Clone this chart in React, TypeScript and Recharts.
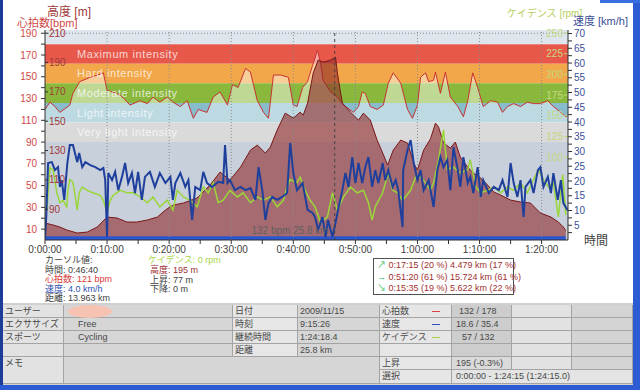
import React from "react";
import {
  ComposedChart,
  Area,
  Line,
  XAxis,
  YAxis,
  ReferenceArea,
  ReferenceLine,
} from "recharts";

const FONT = "'Liberation Sans', 'Noto Sans CJK JP', sans-serif";

// [minutes, value]
const altitude: [number, number][] = [
  [0, 158], [0.8, 163], [1.6, 160], [2.4, 156], [4.0, 161], [4.5, 169], [5.6, 177], [7.3, 180],
  [8.5, 181.5], [9.4, 183], [10.0, 171], [11.6, 169], [12.6, 166], [13.7, 161], [15.3, 164],
  [16.5, 162], [17.4, 166.5], [18.5, 163], [19.7, 166.5], [20.6, 163], [21.8, 160], [22.9, 164],
  [23.9, 152], [24.7, 158], [26.1, 156], [27.1, 166.5], [28.2, 170], [29.4, 161], [30.2, 175],
  [31.1, 173], [32.3, 186], [33.1, 183.5], [34.2, 164], [35.2, 156], [36.0, 152], [36.8, 181.5],
  [37.9, 181.5], [39.2, 180], [40.0, 161], [40.6, 160], [41.5, 173], [42.3, 177], [43.1, 188],
  [43.9, 198.5], [44.4, 189.6], [44.8, 178], [46.0, 170], [47.1, 166.5], [48.1, 161], [49.7, 156],
  [50.5, 160], [51.1, 170], [51.6, 169], [52.4, 160], [53.5, 158], [54.5, 161], [55.3, 176],
  [56.1, 183], [57.3, 176], [58.4, 158], [59.2, 152], [60.0, 161], [60.5, 180], [61.3, 183],
  [61.8, 177], [62.6, 178], [62.9, 183.5], [63.7, 169], [64.5, 183.5], [65.3, 166.5], [66.5, 160],
  [67.4, 153], [68.1, 164], [68.9, 183], [69.7, 173], [70.6, 160], [71.8, 164], [72.9, 163],
  [73.7, 156], [74.5, 160], [75.5, 162], [76.6, 160], [77.7, 163], [78.7, 162], [79.8, 162],
  [81.0, 164], [81.9, 160], [83.1, 156], [83.9, 153], [84.2, 154],
];

const heartRate: [number, number][] = [
  [0, 15.6], [1.3, 13.8], [2.4, 11.9], [3.5, 9.2], [5.2, 6.4], [6.8, 7.3], [8.4, 11.9], [10.0, 21.1],
  [11.6, 20.2], [13.2, 16.5], [14.8, 16.5], [16.5, 18.4], [18.1, 21.1], [19.4, 27.5], [20.6, 32],
  [22.3, 34], [24.5, 38.6], [26.6, 50.5], [28.2, 62.4], [29.8, 55.1], [31.5, 67], [33.1, 82.6],
  [34.2, 87.2], [35.5, 79.9], [36.3, 85.4], [37.4, 101], [38.7, 116.6], [40.0, 112], [41.1, 117.5],
  [41.6, 114.8], [42.3, 125.8], [43.2, 153.4], [44.0, 165.3], [44.8, 163.5], [46.0, 165.3],
  [46.8, 168], [47.1, 153.4], [47.9, 125.8], [49.2, 117.5], [50.5, 110.2], [51.3, 116.6],
  [52.4, 110.2], [53.5, 91.8], [54.4, 79.9], [55.2, 68.9], [56.1, 82.6], [57.3, 91.8], [58.4, 89.1],
  [59.4, 70.7], [60.0, 64.3], [61.0, 82.6], [62.1, 93], [62.9, 107.4], [63.4, 103.8], [64.2, 89.1],
  [65.3, 84.5], [66.1, 90], [66.9, 76.2], [68.1, 67], [69.0, 61.5], [70.2, 56.9], [71.3, 50.5],
  [72.3, 44.1], [73.4, 41.3], [75.0, 36.7], [76.6, 34.9], [78.2, 34], [79.8, 24.8], [81.5, 21.1],
  [82.7, 16.5], [83.5, 11.9], [84.2, 6],
];

const speed: [number, number][] = [
  [0, 0.5], [0.2, 7.8], [0.5, 26.1], [1.1, 26.4], [1.6, 23.7], [2.1, 24.7], [2.4, 18.0], [2.7, 20.3],
  [3.1, 13.6], [3.6, 26.1], [4.0, 32.2], [4.5, 32.2], [5.2, 26.4], [5.5, 29.5], [6.0, 24.7],
  [6.5, 26.4], [7.3, 25.4], [8.1, 24.7], [8.9, 23.7], [9.4, 24.4], [9.7, 20.3], [10.0, 1.0],
  [10.2, 22.7], [10.8, 20.3], [11.3, 23.1], [11.8, 16.9], [12.4, 21.4], [12.9, 26.1], [13.4, 19.3],
  [14.0, 22.7], [14.5, 15.9], [15.0, 23.1], [15.6, 13.6], [16.1, 21.4], [16.9, 23.1], [17.7, 18.0],
  [18.5, 22.7], [19.4, 19.3], [20.2, 21.4], [20.6, 13.6], [21.0, 19.3], [21.8, 22.7], [22.6, 18.0],
  [23.1, 20.3], [23.7, 6.8], [24.2, 18.0], [25.0, 16.9], [25.5, 23.1], [26.1, 19.3], [26.9, 18.0],
  [27.9, 19.7], [28.7, 19.3], [29.0, 32.2], [29.4, 19.3], [29.8, 20.3], [30.6, 16.9], [31.5, 18.0],
  [32.3, 16.9], [33.1, 17.6], [33.9, 13.6], [34.4, 24.7], [35.0, 16.9], [35.5, 6.8], [36.0, 12.5],
  [36.6, 14.6], [37.4, 13.6], [38.2, 14.6], [39.0, 15.9], [39.5, 32.9], [40.0, 22.7], [40.6, 16.9],
  [41.5, 19.3], [42.3, 10.2], [43.1, 9.2], [43.5, 7.8], [44.0, 3.4], [44.7, 7.8], [45.2, 1.0],
  [45.6, 6.8], [46.3, 1.0], [46.8, 5.8], [47.3, 11.2], [47.9, 16.9], [48.4, 22.7], [48.9, 18.0],
  [49.5, 28.1], [50.0, 19.3], [50.5, 26.1], [51.1, 19.3], [51.6, 24.7], [52.1, 28.1], [52.7, 18.0],
  [53.2, 23.7], [53.7, 19.3], [54.4, 26.1], [54.8, 20.3], [55.3, 23.7], [56.0, 18.0], [56.5, 20.3],
  [56.9, 16.9], [57.6, 4.4], [57.7, 23.7], [58.4, 30.5], [58.9, 33.9], [59.4, 26.1], [60.0, 20.3],
  [60.5, 23.7], [61.0, 16.9], [61.8, 20.3], [62.6, 11.2], [63.2, 23.7], [63.7, 28.1], [64.2, 24.7],
  [64.8, 27.1], [65.3, 16.9], [65.8, 31.5], [66.5, 23.7], [66.9, 18.0], [67.4, 28.1], [68.1, 19.3],
  [68.5, 21.4], [69.0, 15.9], [69.7, 24.7], [70.2, 14.6], [70.6, 20.3], [71.5, 15.9], [72.3, 18.0],
  [73.1, 16.9], [73.7, 20.3], [74.5, 14.6], [75.0, 26.1], [75.5, 19.3], [76.1, 14.6], [76.6, 20.3],
  [77.1, 7.8], [77.4, 18.0], [78.2, 20.3], [78.7, 15.9], [79.4, 23.7], [79.8, 24.7], [80.3, 18.0],
  [81.0, 21.4], [81.5, 15.9], [81.9, 22.7], [82.6, 13.6], [83.1, 20.3], [83.5, 12.5], [84.2, 10],
];

const cadence: [number, number][] = [
  [0.3, 36], [0.8, 87], [1.3, 85], [1.9, 57], [2.4, 45], [2.9, 48], [3.5, 40], [3.7, 60], [4.0, 73],
  [4.5, 70], [5.2, 36], [5.5, 57], [6.0, 64], [6.8, 60], [7.7, 57], [8.9, 54], [9.4, 48], [10.0, 33],
  [10.5, 48], [11.0, 54], [12.1, 60], [13.2, 57], [14.2, 57], [15.3, 52], [16.5, 45], [17.4, 52],
  [18.5, 40], [19.7, 48], [20.6, 36], [21.3, 60], [22.3, 52], [23.4, 48], [24.5, 40], [25.5, 64],
  [26.3, 57], [27.1, 69], [27.9, 45], [28.7, 48], [29.8, 60], [31.0, 52], [31.9, 57], [33.1, 45],
  [34.2, 52], [35.2, 48], [36.3, 52], [37.4, 40], [38.4, 48], [39.0, 64], [39.5, 73], [40.6, 69],
  [41.1, 76], [41.9, 60], [42.7, 48], [43.5, 40], [44.4, 21], [45.5, 28], [46.3, 57], [47.1, 36],
  [48.1, 52], [49.2, 64], [50.3, 57], [51.3, 60], [52.1, 45], [52.7, 24], [53.2, 40], [54.4, 57],
  [55.3, 81], [56.0, 60], [56.8, 57], [57.6, 48], [58.9, 60], [59.7, 76], [60.5, 76], [61.3, 69],
  [62.1, 60], [62.6, 69], [63.4, 97], [64.2, 133], [64.8, 85], [65.8, 88], [66.9, 81], [68.1, 85],
  [68.5, 97], [69.4, 64], [70.2, 57], [71.3, 60], [72.3, 64], [73.4, 57], [74.5, 64], [75.5, 60],
  [76.6, 69], [77.7, 57], [78.7, 73], [79.5, 85], [80.3, 73], [81.1, 64], [81.9, 69], [82.7, 28],
  [83.4, 79], [83.9, 30],
];

const hrZones = [
  { from: 162, to: 180, color: "#e8584a", name: "Maximum intensity" },
  { from: 144, to: 162, color: "#f2a84a", name: "Hard intensity" },
  { from: 126, to: 144, color: "#8ab83c", name: "Moderate intensity" },
  { from: 108, to: 126, color: "#88bccc", name: "Light intensity" },
  { from: 90, to: 108, color: "#bcbcbc", name: "Very light intensity" },
];

const timeTicks = [0, 5, 10, 15, 20, 25, 30, 35, 40, 45, 50, 55, 60, 65, 70, 75, 80];
const gridTimes = [10, 20, 30, 40, 50, 60, 70, 80];
const hrTicks = [10, 20, 30, 40, 50, 60, 70, 80, 90, 100, 110, 120, 130, 140, 150, 160, 170, 180, 190];
const altTicks = [90, 110, 130, 150, 170, 190, 210];
const speedTicks = [2.5, 5, 7.5, 10, 12.5, 15, 17.5, 20, 22.5, 25, 27.5, 30, 32.5, 35, 37.5, 40, 42.5, 45, 47.5, 50, 52.5, 55, 57.5, 60, 62.5, 65, 67.5, 70];
const cadenceTicks = [100, 125, 150, 175, 200, 225, 250];
const cursorTime = 46.67;
const endTime = 84.25;

const toRows = (pts: [number, number][]) => pts.map(([t, v]) => ({ t, v }));

const fmtTime = (m: number) => {
  if (m % 10 !== 0) return "";
  const h = Math.floor(m / 60);
  const mm = m % 60;
  return `${h}:${mm < 10 ? "0" + mm : mm}:00`;
};

const AXIS = "#303030";

function Chart() {
  return (
    <ComposedChart
      width={640}
      height={262}
      margin={{ top: 30, right: 0, bottom: 0, left: 0 }}
      style={{ fontFamily: FONT }}
    >
      {/* background + heart rate zones */}
      <ReferenceArea yAxisId="hr" y1={180} y2={193} fill="#dfe5ec" fillOpacity={1} stroke="none" />
      <ReferenceArea yAxisId="hr" y1={0} y2={90} fill="#9ba9bf" fillOpacity={1} stroke="none" />
      {hrZones.map((z) => (
        <ReferenceArea
          key={z.name}
          yAxisId="hr"
          y1={z.from}
          y2={z.to}
          fill={z.color}
          fillOpacity={1}
          stroke="none"
          label={{
            value: z.name,
            position: "insideLeft",
            offset: 32,
            fill: "#ffffff",
            fillOpacity: 0.75,
            fontSize: 11,
            letterSpacing: 0.6,
          }}
        />
      ))}
      {gridTimes.map((t) => (
        <ReferenceLine key={t} yAxisId="hr" x={t} stroke="#8a8a8a" strokeDasharray="1 2" />
      ))}
      <ReferenceLine yAxisId="hr" y={190} stroke="#8a8a8a" strokeDasharray="1 2" />

      <Area
        yAxisId="alt"
        data={toRows(altitude)}
        dataKey="v"
        type="linear"
        stroke="#c83232"
        strokeWidth={1}
        fill="#ffffff"
        fillOpacity={0.45}
        dot={false}
        activeDot={false}
        isAnimationActive={false}
      />
      <Area
        yAxisId="hr"
        data={toRows(heartRate)}
        dataKey="v"
        type="linear"
        stroke="#7a1818"
        strokeWidth={1}
        fill="#902828"
        fillOpacity={0.6}
        dot={false}
        activeDot={false}
        isAnimationActive={false}
      />
      <Line
        yAxisId="cad"
        data={toRows(cadence)}
        dataKey="v"
        type="linear"
        stroke="#9ad63a"
        strokeWidth={1.5}
        dot={false}
        activeDot={false}
        isAnimationActive={false}
      />
      <Line
        yAxisId="spd"
        data={toRows(speed)}
        dataKey="v"
        type="linear"
        stroke="#1f3f9c"
        strokeWidth={2}
        dot={false}
        activeDot={false}
        isAnimationActive={false}
      />

      <ReferenceArea yAxisId="hr" y1={0} y2={3.5} fill="#2a56d0" fillOpacity={1} stroke="none" />
      <ReferenceArea yAxisId="hr" x1={83.9} x2={endTime} y1={0} y2={10} fill="#c8c8c8" fillOpacity={1} stroke="none" />
      <ReferenceLine
        yAxisId="hr"
        x={cursorTime}
        stroke="#444"
        strokeDasharray="3 3"
        label={{ value: "132 bpm 25.8 km", position: "insideBottomRight", offset: 6, fill: "#606060", fontSize: 10 }}
      />

      <XAxis
        dataKey="t"
        type="number"
        domain={[0, endTime]}
        allowDataOverflow
        ticks={timeTicks}
        interval={0}
        tickFormatter={fmtTime}
        height={22}
        tickSize={4}
        tickMargin={2}
        tick={{ fill: "#404040", fontSize: 10 }}
        tickLine={{ stroke: AXIS }}
        axisLine={{ stroke: AXIS }}
      />
      {/* mirrored axes first so they sit on the plot edges */}
      <YAxis
        yAxisId="alt"
        orientation="left"
        mirror
        width={30}
        domain={[69, 212.2]}
        allowDataOverflow
        ticks={altTicks}
        interval={0}
        tickSize={3}
        tickMargin={1}
        tick={{ fill: "#a03838", fontSize: 10 }}
        tickLine={{ stroke: AXIS }}
        axisLine={false}
      />
      <YAxis
        yAxisId="cad"
        orientation="right"
        mirror
        width={30}
        domain={[0, 253.6]}
        allowDataOverflow
        ticks={cadenceTicks}
        interval={0}
        tickSize={4}
        tickMargin={1}
        tick={{ fill: "#c4d87c", fontSize: 10 }}
        tickLine={{ stroke: "#c4d87c" }}
        axisLine={false}
      />
      <YAxis
        yAxisId="hr"
        orientation="left"
        width={45}
        domain={[0, 193]}
        allowDataOverflow
        ticks={hrTicks}
        interval={0}
        tickFormatter={(v: number) => (v % 20 === 10 ? String(v) : "")}
        tickSize={4}
        tickMargin={4}
        tick={{ fill: "#d04848", fontSize: 10 }}
        tickLine={{ stroke: AXIS }}
        axisLine={{ stroke: AXIS }}
      />
      <YAxis
        yAxisId="spd"
        orientation="right"
        width={72}
        domain={[0, 71.2]}
        allowDataOverflow
        ticks={speedTicks}
        interval={0}
        tickFormatter={(v: number) => (v % 5 === 0 ? String(v) : "")}
        tickSize={4}
        tickMargin={2}
        tick={{ fill: "#3a4f98", fontSize: 10 }}
        tickLine={{ stroke: AXIS }}
        axisLine={{ stroke: AXIS }}
      />
    </ComposedChart>
  );
}

const COLS = [3, 64, 233, 298, 380, 452, 512, 572, 633];
const ROWS = [305, 318, 331, 344, 357, 370, 384];

type Cell = { r: number; c: number; rs?: number; cs?: number; text?: string; bg: string; dash?: string; pad?: number };

const cells: Cell[] = [
  { r: 0, c: 0, text: "ユーザー", bg: "#e2e2e2" },
  { r: 0, c: 1, bg: "#d6d6d6" },
  { r: 0, c: 2, text: "日付", bg: "#e6e6e6" },
  { r: 0, c: 3, text: "2009/11/15", bg: "#d6d6d6" },
  { r: 0, c: 4, text: "心拍数", bg: "#e6e6e6", dash: "#e04040" },
  { r: 0, c: 5, text: "132 / 178", bg: "#cdcdcd", pad: 7 },
  { r: 0, c: 6, bg: "#e2e2e2" },
  { r: 0, c: 7, bg: "#d4d4d4" },
  { r: 1, c: 0, text: "エクササイズ", bg: "#e2e2e2" },
  { r: 1, c: 1, text: "Free", bg: "#d6d6d6", pad: 14 },
  { r: 1, c: 2, text: "時刻", bg: "#e6e6e6" },
  { r: 1, c: 3, text: "9:15:26", bg: "#d6d6d6" },
  { r: 1, c: 4, text: "速度", bg: "#e6e6e6", dash: "#3050c0" },
  { r: 1, c: 5, text: "18.6 / 35.4", bg: "#cdcdcd", pad: 4 },
  { r: 1, c: 6, bg: "#e2e2e2" },
  { r: 1, c: 7, bg: "#d4d4d4" },
  { r: 2, c: 0, text: "スポーツ", bg: "#e2e2e2" },
  { r: 2, c: 1, text: "Cycling", bg: "#d6d6d6", pad: 14 },
  { r: 2, c: 2, text: "継続時間", bg: "#e6e6e6" },
  { r: 2, c: 3, text: "1:24:18.4", bg: "#d6d6d6" },
  { r: 2, c: 4, text: "ケイデンス", bg: "#e6e6e6", dash: "#a8d048" },
  { r: 2, c: 5, text: "57 / 132", bg: "#cdcdcd", pad: 10 },
  { r: 2, c: 6, bg: "#e2e2e2" },
  { r: 2, c: 7, bg: "#d4d4d4" },
  { r: 3, c: 0, bg: "#e2e2e2" },
  { r: 3, c: 1, bg: "#d6d6d6" },
  { r: 3, c: 2, text: "距離", bg: "#e6e6e6" },
  { r: 3, c: 3, text: "25.8 km", bg: "#d6d6d6" },
  { r: 3, c: 4, bg: "#e6e6e6" },
  { r: 3, c: 5, bg: "#cdcdcd" },
  { r: 3, c: 6, bg: "#e2e2e2" },
  { r: 3, c: 7, bg: "#d4d4d4" },
  { r: 4, c: 0, rs: 2, text: "メモ", bg: "#e2e2e2" },
  { r: 4, c: 1, rs: 2, cs: 3, bg: "#d6d6d6" },
  { r: 4, c: 4, text: "上昇", bg: "#e6e6e6" },
  { r: 4, c: 5, text: "195 (-0.3%)", bg: "#dadada", pad: 4 },
  { r: 4, c: 6, bg: "#e2e2e2" },
  { r: 4, c: 7, bg: "#d4d4d4" },
  { r: 5, c: 4, text: "選択", bg: "#e6e6e6" },
  { r: 5, c: 5, cs: 3, text: "0:00:00 - 1:24:15 (1:24:15.0)", bg: "#e4e4e4", pad: 4 },
];

function InfoTable() {
  return (
    <div>
      {cells.map((cell, i) => {
        const x0 = COLS[cell.c];
        const x1 = COLS[cell.c + (cell.cs ?? 1)];
        const y0 = ROWS[cell.r];
        const y1 = ROWS[cell.r + (cell.rs ?? 1)];
        return (
          <div
            key={i}
            style={{
              position: "absolute",
              left: x0,
              top: y0,
              width: x1 - x0,
              height: y1 - y0,
              boxSizing: "border-box",
              background: cell.bg,
              borderRight: "1px solid #a4a4a4",
              borderBottom: "1px solid #a4a4a4",
              fontSize: 9,
              lineHeight: "12px",
              color: "#484848",
              paddingLeft: cell.pad ?? 2,
              whiteSpace: "nowrap",
              overflow: "hidden",
            }}
          >
            {cell.text}
            {cell.dash && (
              <span
                style={{
                  position: "absolute",
                  left: x1 - x0 - 20,
                  top: 6,
                  width: 8,
                  height: 1,
                  background: cell.dash,
                }}
              />
            )}
          </div>
        );
      })}
      <div
        style={{
          position: "absolute",
          left: 68,
          top: 305,
          width: 44,
          height: 13,
          borderRadius: "50%",
          background: "#f6c2b2",
        }}
      />
    </div>
  );
}

const abs = (left: number, top: number, color: string, size = 10, lh = 11): React.CSSProperties => ({
  position: "absolute",
  left,
  top,
  color,
  fontSize: size,
  whiteSpace: "nowrap",
  lineHeight: `${lh}px`,
});

export default function App() {
  return (
    <div
      style={{
        position: "absolute",
        left: 0,
        top: 0,
        width: 640,
        height: 390,
        background: "#ffffff",
        overflow: "hidden",
        fontFamily: FONT,
      }}
    >
      <div style={{ position: "absolute", left: 0, top: 0 }}>
        <Chart />
      </div>

      {/* axis titles */}
      <div style={abs(47, 6, "#a03838", 12, 12)}>高度 [m]</div>
      <div style={abs(17, 18, "#d04848", 11, 10)}>心拍数[bpm]</div>
      <div style={abs(507, 8, "#b8d060", 10)}>ケイデンス [rpm]</div>
      <div style={abs(573, 16, "#3a4f98", 11)}>速度 [km/h]</div>
      <div style={abs(584, 236, "#404040", 12)}>時間</div>

      {/* cursor values */}
      <div style={abs(45, 256, "#404040", 9, 9.5)}>カーソル値:</div>
      <div style={abs(45, 265.5, "#404040", 9, 9.5)}>時間: 0:46:40</div>
      <div style={abs(45, 275, "#d83838", 9, 9.5)}>心拍数: 121 bpm</div>
      <div style={abs(45, 284.5, "#3050b0", 9, 9.5)}>速度: 4.0 km/h</div>
      <div style={abs(45, 294, "#404040", 9, 9.5)}>距離: 13.963 km</div>
      <div style={abs(148, 256, "#a8d448", 9, 9.5)}>ケイデンス: 0 rpm</div>
      <div style={abs(150, 266, "#a03030", 9, 9.5)}>高度: 195 m</div>
      <div style={abs(150, 275.5, "#404040", 9, 9.5)}>上昇: 77 m</div>
      <div style={abs(150, 285, "#404040", 9, 9.5)}>下降: 0 m</div>

      {/* climb summary box */}
      <div
        style={{
          position: "absolute",
          left: 373,
          top: 258,
          width: 141,
          height: 37,
          boxSizing: "border-box",
          border: "1px solid #505050",
          background: "#ffffff",
          fontSize: 9,
          lineHeight: "11.5px",
          color: "#a03030",
          paddingLeft: 3,
          paddingTop: 1,
          whiteSpace: "nowrap",
        }}
      >
        <div><span style={{ color: "#30c060" }}>↗</span> 0:17:15 (20 %) 4.479 km (17 %)</div>
        <div><span style={{ color: "#30c060" }}>→</span> 0:51:20 (61 %) 15.724 km (61 %)</div>
        <div><span style={{ color: "#30c060" }}>↘</span> 0:15:35 (19 %) 5.622 km (22 %)</div>
      </div>

      <div style={{ position: "absolute", left: 3, top: 303, width: 630, height: 83, background: "#d0d0d0" }} />
      <InfoTable />

      {/* window frame */}
      <div style={{ position: "absolute", left: 0, top: 0, width: 3, height: 390, background: "#1c3c98" }} />
      <div style={{ position: "absolute", left: 633, top: 0, width: 7, height: 390, background: "#2c5bd3" }} />
      <div style={{ position: "absolute", left: 0, top: 385, width: 640, height: 5, background: "#2c5bd3" }} />
      <div style={{ position: "absolute", left: 600, top: 0, width: 40, height: 3, background: "#3a6ee0" }} />
    </div>
  );
}
